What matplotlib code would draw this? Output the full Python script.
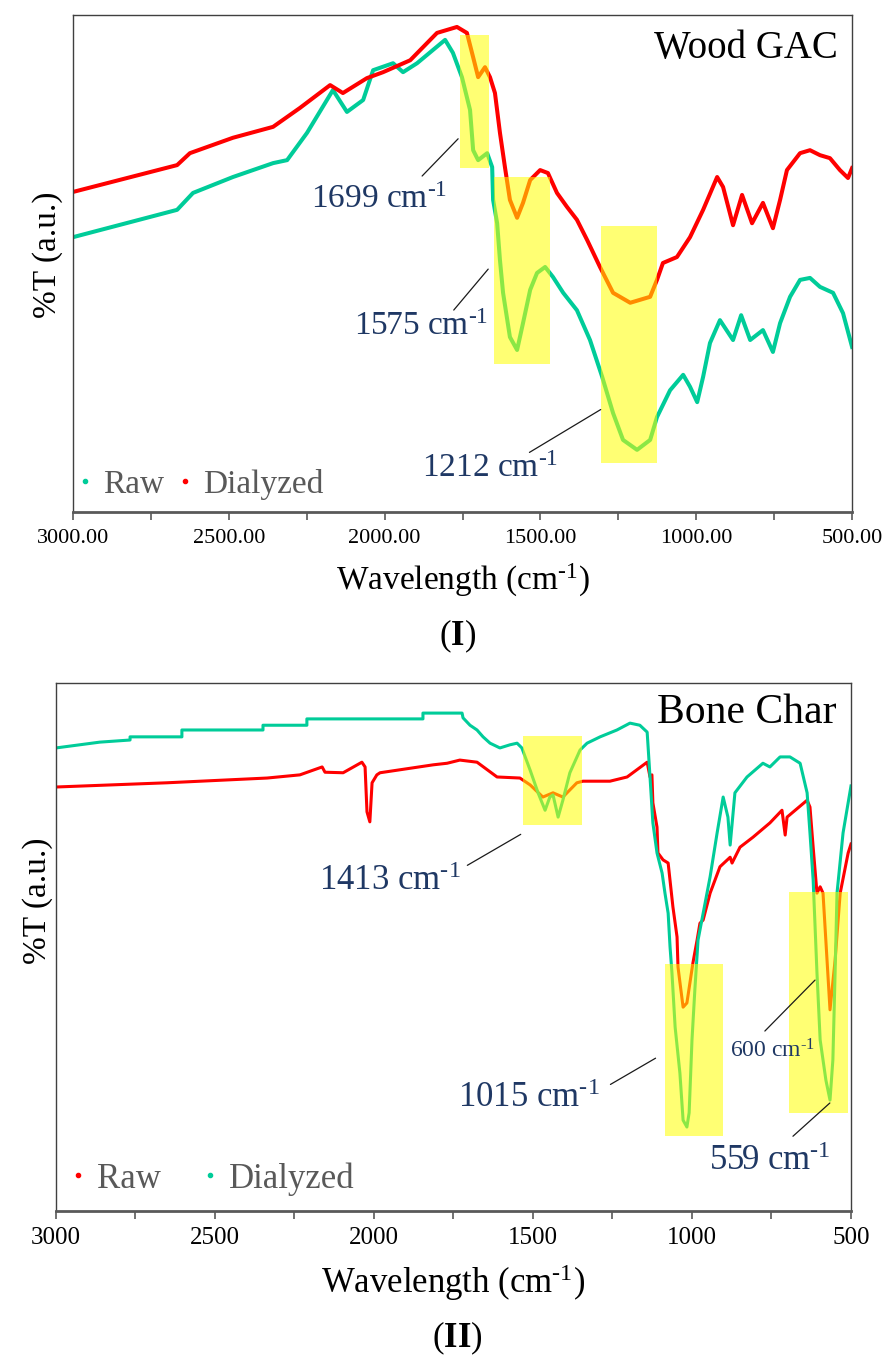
"""
plot.py - Espectros FTIR (Wood GAC e Bone Char), amostras Raw e Dialyzed.
"""

import matplotlib
matplotlib.use("Agg")
import matplotlib.pyplot as plt
from matplotlib.patches import Rectangle
from matplotlib.lines import Line2D
from matplotlib.ticker import MultipleLocator, FormatStrFormatter

plt.rcParams["font.family"] = ["Liberation Serif", "DejaVu Serif"]
plt.rcParams["mathtext.fontset"] = "custom"
plt.rcParams["mathtext.rm"] = "Liberation Serif"
plt.rcParams["mathtext.it"] = "Liberation Serif:italic"
plt.rcParams["mathtext.bf"] = "Liberation Serif:bold"


# ─────────────────────────────────────────────
# DADOS (%T em unidades arbitrárias)
# ─────────────────────────────────────────────

# Painel I - Wood GAC
wood_dial_x = [3000, 2666, 2625, 2487, 2358, 2272, 2175, 2134, 2057, 2005,
               1918, 1832, 1768, 1736, 1716, 1700, 1678, 1662, 1646, 1630,
               1614, 1598, 1575, 1556, 1533, 1501, 1476, 1447, 1415, 1383,
               1350, 1309, 1267, 1212, 1148, 1126, 1107, 1062, 1020, 978,
               933, 914, 882, 853, 821, 786, 754, 731, 709, 667,
               635, 603, 571, 539, 513, 500]
wood_dial_y = [64.4, 69.8, 72.2, 75.3, 77.5, 81.3, 85.9, 84.3, 87.3, 88.5,
               90.9, 96.4, 97.6, 96.4, 91.5, 87.5, 89.5, 87.5, 84.3, 76.3,
               69.4, 62.8, 59.2, 62.2, 66.8, 68.8, 68.2, 64.2, 61.4, 58.8,
               54.7, 49.3, 44.1, 42.1, 43.3, 46.7, 50.1, 51.3, 55.3, 60.8,
               67.4, 65.4, 57.7, 63.8, 58.1, 62.2, 57.1, 62.8, 68.8, 72.2,
               72.8, 71.8, 71.2, 68.8, 67.2, 69.2]

wood_raw_x = [3000, 2666, 2615, 2487, 2358, 2313, 2249, 2166, 2121, 2069,
              2037, 1973, 1941, 1896, 1806, 1781, 1752, 1726, 1716, 1700,
              1671, 1655, 1652, 1639, 1630, 1620, 1598, 1575, 1556, 1533,
              1511, 1485, 1460, 1427, 1383, 1341, 1302, 1267, 1235, 1190,
              1148, 1126, 1084, 1042, 1020, 997, 978, 956, 924, 882,
              856, 827, 786, 754, 731, 699, 667, 635, 603, 561,
              529, 500]
wood_raw_y = [55.3, 60.8, 64.2, 67.4, 70.2, 70.8, 76.3, 84.9, 80.5, 82.9,
              88.9, 90.3, 88.5, 90.3, 95.0, 92.4, 87.5, 80.9, 72.8, 70.8,
              72.2, 69.4, 62.8, 58.1, 50.7, 44.1, 35.2, 32.6, 38.0, 44.7,
              48.1, 49.3, 47.3, 44.1, 40.6, 34.6, 27.2, 19.9, 14.5, 12.5,
              14.5, 19.1, 24.5, 27.6, 25.2, 22.1, 27.2, 34.0, 38.6, 34.6,
              39.6, 34.6, 36.6, 32.2, 38.0, 43.3, 46.7, 47.1, 45.3, 44.1,
              40.0, 33.2]

# Painel II - Bone Char
bone_raw_x = [3000, 2651, 2336, 2233, 2163, 2154, 2097, 2038, 2028, 2022,
              2013, 2006, 1991, 1981, 1814, 1770, 1730, 1676, 1613, 1541,
              1509, 1469, 1437, 1406, 1362, 1343, 1258, 1204, 1141, 1132,
              1126, 1123, 1110, 1107, 1091, 1075, 1060, 1047, 1044, 1028,
              1016, 997, 984, 975, 965, 943, 912, 880, 874, 849,
              808, 755, 717, 707, 701, 638, 629, 619, 607, 597,
              588, 566, 550, 534, 509, 500]
bone_raw_y = [80.3, 81.1, 82.0, 82.6, 84.1, 83.1, 83.0, 85.0, 84.1, 75.6,
              73.7, 81.1, 82.6, 83.0, 84.5, 84.8, 85.4, 85.0, 82.2, 82.0,
              80.7, 78.4, 79.2, 78.4, 81.1, 81.4, 81.4, 82.2, 85.0, 82.2,
              82.6, 77.3, 72.7, 67.8, 66.5, 65.9, 57.6, 51.9, 46.2, 38.6,
              39.4, 47.0, 51.3, 54.5, 55.1, 60.2, 65.2, 67.0, 65.9, 68.9,
              70.8, 73.5, 75.9, 71.2, 74.6, 77.8, 76.5, 68.9, 60.2, 61.4,
              60.2, 38.1, 47.5, 60.2, 67.8, 69.5]

bone_dial_x = [3000, 2862, 2767, 2767, 2604, 2604, 2349, 2349, 2211, 2211,
               1846, 1846, 1723, 1720, 1698, 1676, 1657, 1635, 1604, 1572,
               1550, 1535, 1509, 1484, 1462, 1447, 1437, 1421, 1406, 1384,
               1352, 1330, 1289, 1236, 1195, 1164, 1141, 1138, 1132, 1123,
               1110, 1094, 1085, 1075, 1069, 1063, 1053, 1038, 1028, 1016,
               1009, 1000, 991, 981, 943, 921, 902, 887, 880, 865,
               827, 777, 755, 723, 692, 660, 638, 629, 619, 607,
               597, 579, 566, 557, 550, 544, 525, 509, 500]
bone_dial_y = [87.7, 88.8, 89.2, 89.8, 89.8, 91.1, 91.1, 92.0, 92.0, 93.2,
               93.2, 94.3, 94.3, 93.4, 92.0, 91.1, 89.8, 88.6, 87.7, 88.3,
               88.6, 87.7, 83.5, 79.2, 75.9, 78.4, 78.8, 74.6, 77.8, 83.0,
               87.3, 88.6, 89.8, 91.1, 92.4, 92.0, 90.7, 87.9, 82.2, 73.5,
               67.8, 64.0, 60.2, 56.4, 50.0, 45.1, 34.8, 26.1, 17.2, 15.9,
               18.6, 32.4, 41.9, 51.3, 63.3, 71.6, 78.4, 74.6, 69.3, 79.2,
               82.2, 84.8, 84.1, 86.0, 86.0, 84.8, 79.2, 71.6, 62.7, 45.1,
               32.4, 24.8, 21.0, 28.6, 45.1, 60.2, 71.6, 77.3, 80.5]


# ─────────────────────────────────────────────
# ESTILO
# ─────────────────────────────────────────────

VERMELHO = "#FF0000"
TURQUESA = "#00CC99"
AMARELO = "#FFFF00"
AZUL = "#1F3864"
CINZA = "#595959"
CM = r"cm$^{\text{-1}}$"


def estilo_eixo(ax, formato, tam_ticks, pad):
    ax.set_xlim(3000, 500)
    ax.set_ylim(0, 100)
    ax.xaxis.set_major_locator(MultipleLocator(500))
    ax.xaxis.set_minor_locator(MultipleLocator(250))
    ax.xaxis.set_major_formatter(FormatStrFormatter(formato))
    ax.set_yticks([])
    ax.tick_params(axis="x", which="both", direction="out", length=5.5,
                   width=1.2, color=CINZA, labelsize=tam_ticks, pad=pad,
                   labelfontfamily="Liberation Serif")
    for lado in ["top", "right", "left"]:
        ax.spines[lado].set_color("#404040")
        ax.spines[lado].set_linewidth(1.0)
    ax.spines["bottom"].set_color(CINZA)
    ax.spines["bottom"].set_linewidth(2.0)


def faixa(ax, w_ini, w_fim, y_ini, y_fim):
    """Retângulo amarelo semi-transparente por cima das curvas."""
    ax.add_patch(Rectangle((w_fim, y_ini), w_ini - w_fim, y_fim - y_ini,
                           facecolor=AMARELO, alpha=0.55, lw=0, zorder=3))


def rotulo(ax, texto, pos, de, ate, tam):
    ax.text(pos[0], pos[1], texto, ha="center", va="baseline",
            color=AZUL, fontsize=tam, zorder=5)
    ax.annotate("", xy=ate, xytext=de,
                arrowprops=dict(arrowstyle="-", color="#1a1a1a", lw=0.9),
                zorder=5)


def legenda(ax, cores, ancora, tam, espaco):
    alcas = [Line2D([], [], ls="none", marker="o", ms=3, color=c, label=r)
             for r, c in zip(["Raw", "Dialyzed"], cores)]
    ax.legend(handles=alcas, loc="center left", bbox_to_anchor=ancora,
              ncol=2, frameon=False, fontsize=tam, handlelength=0.5,
              handletextpad=0.29, columnspacing=espaco, borderpad=0,
              borderaxespad=0, labelcolor=CINZA)


# ─────────────────────────────────────────────
# FIGURA
# ─────────────────────────────────────────────

fig = plt.figure(figsize=(8.94, 13.66), dpi=100)
ax1 = fig.add_axes([0.0817, 0.6252, 0.8714, 0.3638])
ax2 = fig.add_axes([0.0626, 0.1135, 0.8893, 0.3865])

# ── Painel I ──
ax1.plot(wood_raw_x, wood_raw_y, color=TURQUESA, lw=2.9,
         solid_joinstyle="round", zorder=2)
ax1.plot(wood_dial_x, wood_dial_y, color=VERMELHO, lw=2.9,
         solid_joinstyle="round", zorder=2)
estilo_eixo(ax1, "%.2f", 16, 7)

faixa(ax1, 1758, 1665, 69.2, 96.0)
faixa(ax1, 1649, 1469, 29.8, 67.4)
faixa(ax1, 1306, 1126, 9.9, 57.5)

rotulo(ax1, "1699 " + CM, (2018, 61.2), (1886, 67.2), (1758, 75.5), 24)
rotulo(ax1, "1575 " + CM, (1883, 35.6), (1784, 40.2), (1662, 49.3), 24)
rotulo(ax1, "1212 " + CM, (1662, 7.0), (1543, 11.7), (1299, 20.9), 24)

ax1.text(0.982, 0.913, "Wood GAC", transform=ax1.transAxes, ha="right",
         va="baseline", fontsize=28, color="black")
legenda(ax1, [TURQUESA, VERMELHO], (0.0047, 0.056), 24, 0.38)

ax1.set_xlabel("Wavelength (" + CM + ")", fontsize=24)
ax1.xaxis.set_label_coords(0.5, -0.137)
ax1.xaxis.label.set_verticalalignment("center")
ax1.set_ylabel("%T (a.u.)", fontsize=24)
ax1.yaxis.set_label_coords(-0.033, 0.517)
ax1.yaxis.label.set_verticalalignment("center")

# ── Painel II ──
ax2.plot(bone_raw_x, bone_raw_y, color=VERMELHO, lw=2.2,
         solid_joinstyle="round", zorder=2)
ax2.plot(bone_dial_x, bone_dial_y, color=TURQUESA, lw=2.2,
         solid_joinstyle="round", zorder=2)
estilo_eixo(ax2, "%d", 18, 6)

faixa(ax2, 1531, 1346, 73.1, 90.0)
faixa(ax2, 1085, 902, 14.2, 46.8)
faixa(ax2, 695, 509, 18.6, 60.4)

rotulo(ax2, "1413 " + CM, (1951, 60.8), (1714, 65.2), (1531, 71.6), 25)
rotulo(ax2, "1015 " + CM, (1512, 19.7), (1264, 23.7), (1107, 29.2), 25)
rotulo(ax2, "600 " + CM, (747, 29.0), (777, 33.7), (607, 44.1), 17)
rotulo(ax2, "559 " + CM, (755, 7.8), (689, 13.8), (560, 20.8), 25)

ax2.text(0.982, 0.924, "Bone Char", transform=ax2.transAxes, ha="right",
         va="baseline", fontsize=30, color="black")
legenda(ax2, [VERMELHO, TURQUESA], (0.017, 0.061), 25, 1.17)

ax2.set_xlabel("Wavelength (" + CM + ")", fontsize=25)
ax2.xaxis.set_label_coords(0.5, -0.136)
ax2.xaxis.label.set_verticalalignment("center")
ax2.set_ylabel("%T (a.u.)", fontsize=24)
ax2.yaxis.set_label_coords(-0.0226, 0.587)
ax2.yaxis.label.set_verticalalignment("center")

# ── Letras dos painéis ──
fig.text(0.512, 0.5344, r"($\mathbf{I}$)", ha="center", va="center",
         fontsize=25)
fig.text(0.511, 0.0205, r"($\mathbf{II}$)", ha="center", va="center",
         fontsize=25)

fig.savefig("out.png", dpi=100)
